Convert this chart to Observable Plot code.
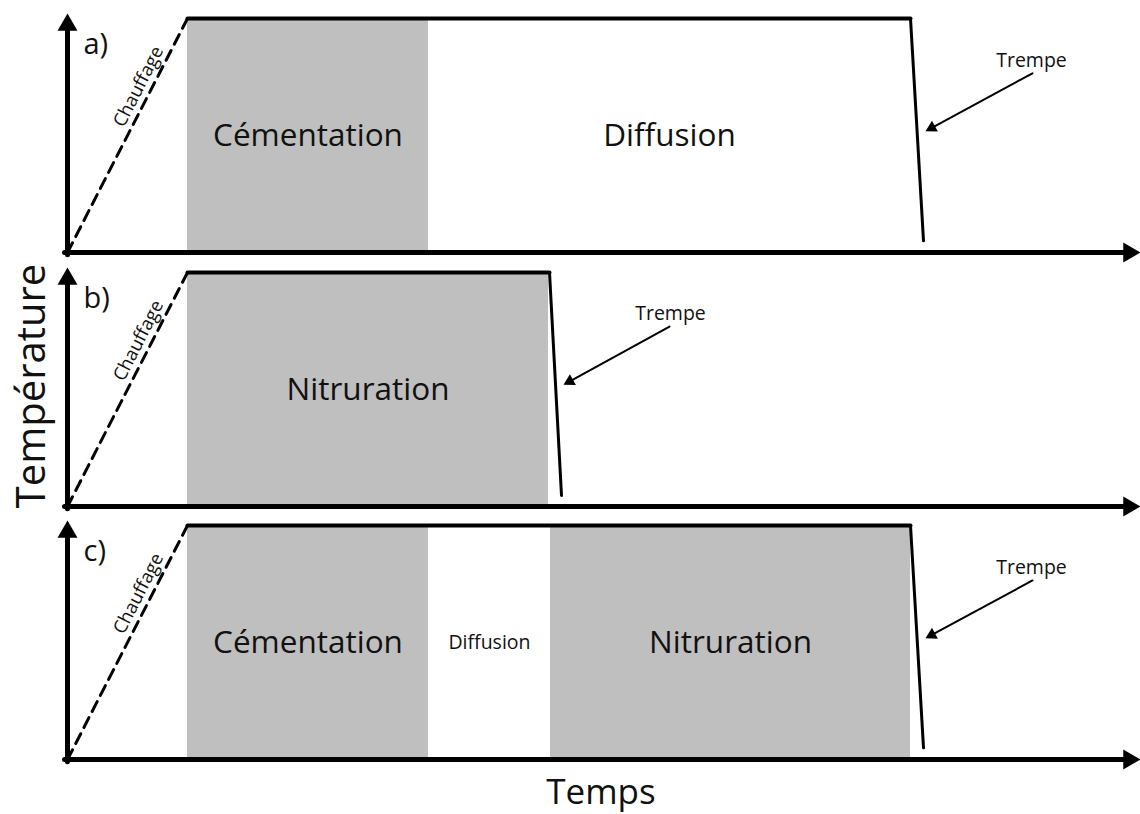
<!DOCTYPE html>
<html><head><meta charset="utf-8">
<script src="https://cdn.jsdelivr.net/npm/d3@7"></script>
<script src="https://cdn.jsdelivr.net/npm/@observablehq/plot@0.6"></script>
<style>
body{margin:0;background:#fff;}
#wrap{position:relative;width:1140px;height:814px;overflow:hidden;font-family:"Open Sans",sans-serif;color:#111;}
.panel{position:absolute;left:0;}
#ylab{position:absolute;left:30px;top:386px;transform:translate(-50%,-50%) rotate(-90deg);font-size:40px;line-height:1;white-space:nowrap;}
#xlab{position:absolute;left:601px;top:790px;transform:translate(-50%,-50%);font-size:35px;line-height:1;white-space:nowrap;}
</style></head><body>
<div id="wrap"><div id="ylab">Température</div><div id="xlab">Temps</div></div>
<script>
// ---- data (time in arbitrary units, temperature in % of treatment temperature) ----
const panelIds = ["a", "b", "c"];
const panelLabels = ["a)", "b)", "c)"];
const heatEnd = 12.0;          // end of heating ramp ("Chauffage")
const plateauTemp = 100;
const segPanel = ["a", "a", "b", "c", "c", "c"];
const segName = ["Cémentation", "Diffusion", "Nitruration", "Cémentation", "Diffusion", "Nitruration"];
const segStart = [12.0, 36.1, 12.0, 12.0, 36.1, 48.3];
const segEnd = [36.1, 84.3, 48.1, 36.1, 48.3, 84.3];
const segShaded = [true, false, true, true, false, true];
const quenchStart = [84.3, 48.2, 84.3];
const quenchEnd = [85.6, 49.4, 85.6];
const quenchEndTemp = [5, 4.7, 5];
const trempeTextX = [96.4, 60.3, 96.4];
const trempeTextT = [82, 82.5, 81.8];
const trempeFromX = [96.5, 60.2, 96.5];
const trempeFromT = [76.6, 76.9, 76.5];
const trempeToX = [85.8, 49.6, 85.8];
const trempeToT = [51.8, 52.0, 51.8];
const heatLabel = "Chauffage";
const quenchLabel = "Trempe";

// ---- layout ----
const W = 1140, H = 254, mL = 67, mT = 18, mB = 2, tMax = 107.3;
const tops = [0, 254, 507];
const pxX = (W - mL) / tMax;           // px per time unit
const pxY = (H - mB - mT) / 100;       // px per temperature unit
const ang = (dx, dy) => Math.atan2(dy * pxY, dx * pxX) * 180 / Math.PI; // screen angle (deg, ccw)

const wrap = document.getElementById("wrap");
panelIds.forEach((pid, i) => {
  const segs = segName.map((name, k) => ({panel: segPanel[k], name, start: segStart[k], end: segEnd[k], shaded: segShaded[k]}))
    .filter(d => d.panel === pid);
  const heatAngle = ang(heatEnd, plateauTemp);
  const arrowDir = ang(trempeToX[i] - trempeFromX[i], trempeToT[i] - trempeFromT[i]);
  const rTrempe = 4.6, rAxis = 7.4;
  // triangle centroid sits 2/3 of the height behind its tip
  const backPx = 2 * 0.7776 * rTrempe;
  const rad = arrowDir * Math.PI / 180;
  const headX = trempeToX[i] - Math.cos(rad) * backPx / pxX;
  const headT = trempeToT[i] - Math.sin(rad) * backPx / pxY;
  const axisBack = 2 * 0.7776 * rAxis;
  const yTip = 102.1, xTip = tMax;
  const yHead = yTip - axisBack / pxY, xHead = xTip - axisBack / pxX;

  const chart = Plot.plot({
    width: W, height: H, marginLeft: mL, marginRight: 0, marginTop: mT, marginBottom: mB,
    x: {domain: [0, tMax], axis: null},
    y: {domain: [0, 100], axis: null},
    style: {overflow: "visible", background: "transparent", fontFamily: "'Open Sans', sans-serif"},
    marks: [
      Plot.rect(segs.filter(d => d.shaded), {x1: "start", x2: "end", y1: 0, y2: plateauTemp, fill: "#bfbfbf"}),
      Plot.text(segs, {x: d => (d.start + d.end) / 2, y: plateauTemp / 2, text: "name",
        fontSize: d => (d.end - d.start) < 15 ? 19.5 : 31.5, fill: "#111"}),
      // heating ramp
      Plot.line([[0, 0], [heatEnd, plateauTemp]], {strokeWidth: 3, strokeDasharray: "11,7", stroke: "#000"}),
      // plateau
      Plot.line([[heatEnd, plateauTemp], [quenchStart[i], plateauTemp]], {strokeWidth: 4, stroke: "#000", strokeLinecap: "round"}),
      // quench
      Plot.line([[quenchStart[i], plateauTemp], [quenchEnd[i], quenchEndTemp[i]]], {strokeWidth: 3, stroke: "#000"}),
      // axes
      Plot.line([[0, -1], [0, yHead]], {strokeWidth: 5, stroke: "#000"}),
      Plot.line([[-0.3, 0], [xHead, 0]], {strokeWidth: 5, stroke: "#000"}),
      Plot.dot([[0, yHead]], {symbol: "triangle", r: rAxis, fill: "#000", stroke: null}),
      Plot.dot([[xHead, 0]], {symbol: "triangle", r: rAxis, fill: "#000", stroke: null, rotate: 90}),
      // Trempe annotation
      Plot.line([[trempeFromX[i], trempeFromT[i]], [headX, headT]], {strokeWidth: 2, stroke: "#000"}),
      Plot.dot([[headX, headT]], {symbol: "triangle", r: rTrempe, fill: "#000", stroke: null, rotate: 90 - arrowDir}),
      Plot.text([quenchLabel], {x: trempeTextX[i], y: trempeTextT[i], text: d => d, fontSize: 19.5, fill: "#111"}),
      // labels
      Plot.text([panelLabels[i]], {x: 1.6, y: 89, text: d => d, fontSize: 29, textAnchor: "start", fill: "#111"}),
      Plot.text([heatLabel], {x: 7.1, y: 70.9, text: d => d, fontSize: 18.5, rotate: -heatAngle, fill: "#111"})
    ]
  });
  chart.classList.add("panel");
  chart.style.top = tops[i] + "px";
  wrap.appendChild(chart);
});
</script>
</body></html>
